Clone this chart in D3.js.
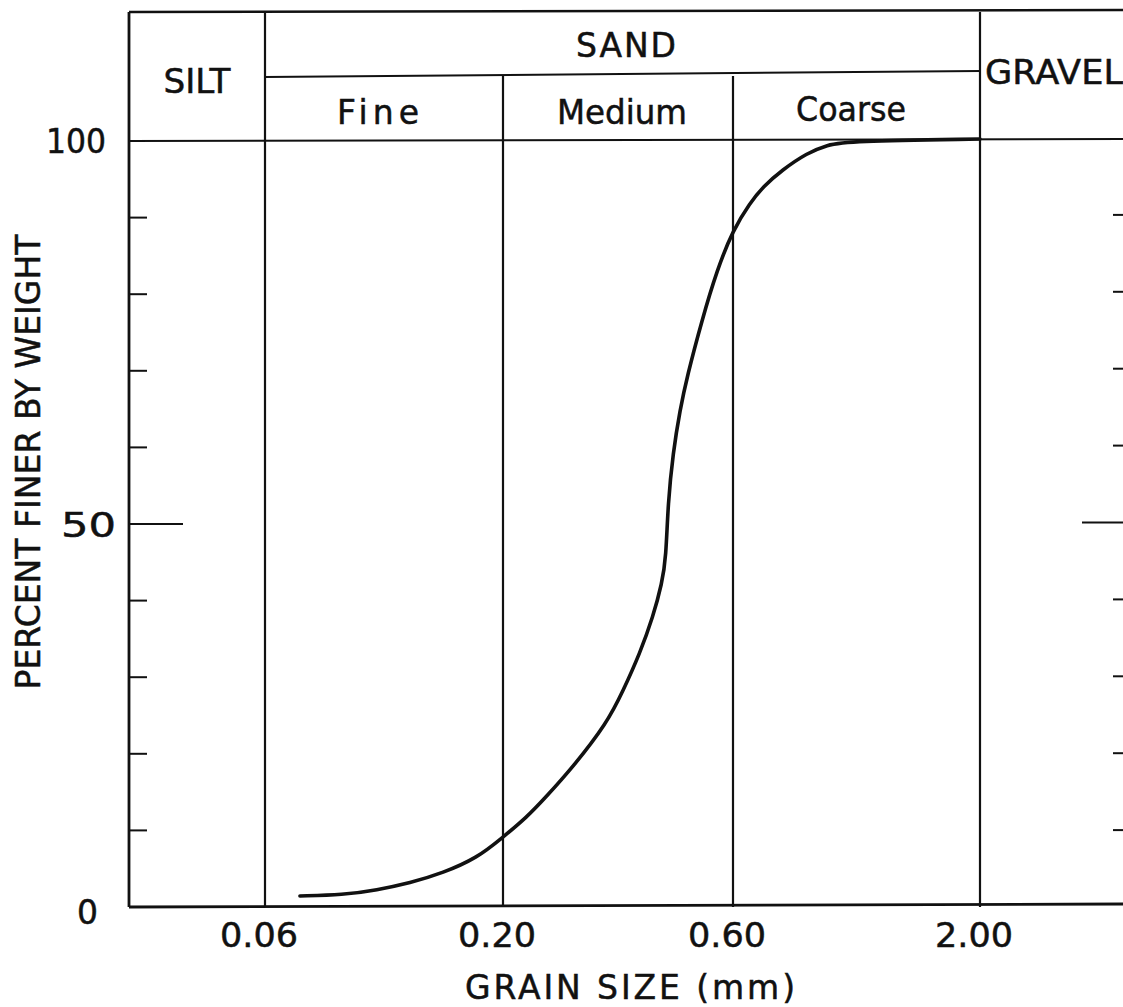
<!DOCTYPE html>
<html>
<head>
<meta charset="utf-8">
<script src="https://cdn.jsdelivr.net/npm/d3@7"></script>
<style>
  body { margin: 0; background: #fff; }
  text { font-family: "DejaVu Sans", sans-serif; fill: #111; stroke: #111; stroke-width: 0.5; }
</style>
</head>
<body>
<div id="chart"></div>
<script>
// grain size (mm) of the vertical class boundaries
var sizeTicks = [0.06, 0.20, 0.60, 2.00];
var sizeLabels = ["0.06", "0.20", "0.60", "2.00"];

// percent ticks
var pctTicks = [10, 20, 30, 40, 50, 60, 70, 80, 90];
var pctLabels = [0, 50, 100];

// header classes
var subClasses = ["Fine", "Medium", "Coarse"];

// grading curve
var grainSize = [0.0716, 0.0716, 0.0890, 0.1057, 0.1249, 0.1476, 0.1754, 0.199, 0.2243, 0.2444,
                 0.2794, 0.3287, 0.3548, 0.3848, 0.4094, 0.4275, 0.4357, 0.4398, 0.4505, 0.4658,
                 0.4816, 0.5174, 0.5559, 0.600, 0.652, 0.694, 0.762, 0.861, 0.949, 1.05,
                 2.00, 2.00];
var pctFiner = [1.44, 1.44, 1.57, 2.22, 3.13, 4.44, 6.40, 9.01, 11.75, 14.23,
                18.28, 24.02, 28.2, 33.16, 37.86, 42.30, 45.56, 52.74, 59.27, 64.88,
                69.19, 76.63, 83.16, 88.38, 91.91, 94.0, 96.21, 98.43, 99.48, 100,
                100.26, 100.26];

var W = 1123, H = 1007;
var frameL = 129, frameR = 1126, frameT = 12, headMid = 76;

var svg = d3.select("#chart")
        .append("svg")
        .attr("width", W)
        .attr("height", H);

// hand drawn log paper, one piece between each boundary
var x = d3.scaleLog()
        .domain(sizeTicks)
        .range([265, 503, 733, 980]);

var y = d3.scaleLinear()
        .domain([0, 100])
        .range([907, 141]);

var ink = "#111";

function rule(x1, y1, x2, y2, w) {
    svg.append("line")
            .attr("x1", x1).attr("y1", y1)
            .attr("x2", x2).attr("y2", y2)
            .attr("stroke", ink)
            .attr("stroke-width", w);
}

// frame
rule(frameL, frameT, frameL, y(0), 2.8);
rule(frameL, frameT, frameR, frameT - 2, 2.4);
rule(frameL, y(0), frameR, y(0) - 3, 2.8);
rule(frameR, frameT, frameR, y(0), 2.8);

// 100 percent line (bottom of the header)
rule(frameL, y(100), frameR, y(100) - 2, 2);

// sand sub header line
rule(x(0.06), headMid + 1, x(2), headMid - 5, 2);

// vertical boundaries
svg.selectAll("line.bound")
        .data(sizeTicks)
        .enter()
        .append("line")
        .attr("class", "bound")
        .attr("x1", function (d) { return x(d); })
        .attr("x2", function (d) { return x(d); })
        .attr("y1", function (d) { return (d === 0.2 || d === 0.6) ? headMid : frameT; })
        .attr("y2", y(0))
        .attr("stroke", ink)
        .attr("stroke-width", 2.2);

// percent ticks, both sides pointing in
svg.selectAll("line.ltick")
        .data(pctTicks)
        .enter()
        .append("line")
        .attr("x1", frameL)
        .attr("x2", function (d) { return d === 50 ? frameL + 54 : frameL + 18; })
        .attr("y1", function (d) { return y(d); })
        .attr("y2", function (d) { return y(d); })
        .attr("stroke", ink).attr("stroke-width", 2);

svg.selectAll("line.rtick")
        .data(pctTicks)
        .enter()
        .append("line")
        .attr("x1", frameR)
        .attr("x2", function (d) { return d === 50 ? frameR - 44 : frameR - 13; })
        .attr("y1", function (d) { return y(d) - 3 * d / 100; })
        .attr("y2", function (d) { return y(d) - 3 * d / 100; })
        .attr("stroke", ink).attr("stroke-width", 2);

// curve (end points doubled so the b-spline reaches them)
var pts = grainSize.map(function (d, i) { return [x(d), y(pctFiner[i])]; });
svg.append("path")
        .attr("d", d3.line().curve(d3.curveBasis)(pts))
        .attr("fill", "none")
        .attr("stroke", ink)
        .attr("stroke-width", 3.6)
        .attr("stroke-linecap", "round");

// x tick labels
svg.selectAll("text.xlab")
        .data(sizeTicks)
        .enter()
        .append("text")
        .attr("x", function (d) { return x(d) - 6; })
        .attr("y", 947)
        .attr("text-anchor", "middle")
        .attr("font-size", 34)
        .attr("textLength", 78)
        .attr("lengthAdjust", "spacingAndGlyphs")
        .text(function (d, i) { return sizeLabels[i]; });

// y tick labels
var yRight = {0: 98, 50: 116, 100: 106};
var yLen = {0: 21, 50: 55, 100: 60};
var yDrop = {0: 17, 50: 13, 100: 12};
svg.selectAll("text.ylab")
        .data(pctLabels)
        .enter()
        .append("text")
        .attr("x", function (d) { return yRight[d]; })
        .attr("y", function (d) { return y(d) + yDrop[d]; })
        .attr("text-anchor", "end")
        .attr("font-size", 34)
        .attr("textLength", function (d) { return yLen[d]; })
        .attr("lengthAdjust", "spacingAndGlyphs")
        .text(function (d) { return d; });

// axis titles
svg.append("text")
        .attr("x", 630).attr("y", 999)
        .attr("text-anchor", "middle")
        .attr("font-size", 33)
        .attr("textLength", 330)
        .text("GRAIN SIZE (mm)");

svg.append("text")
        .attr("transform", "translate(40,462) rotate(-90)")
        .attr("text-anchor", "middle")
        .attr("font-size", 33)
        .attr("textLength", 455)
        .text("PERCENT FINER BY WEIGHT");

// header texts
function head(t, cx, cy, len, anchor, adjust) {
    svg.append("text").attr("x", cx).attr("y", cy)
            .attr("text-anchor", anchor || "middle")
            .attr("font-size", 33)
            .attr("textLength", len)
            .attr("lengthAdjust", adjust || "spacingAndGlyphs")
            .text(t);
}
head("SILT", 197, 93, 67);
head("SAND", 626, 57, 100, "middle", "spacing");
head("GRAVEL", 985, 84, 138, "start");

var subX = [378, 622, 851];
var subLen = [82, 130, 110];
subClasses.forEach(function (d, i) {
    head(d, subX[i], i === 2 ? 121 : 124, subLen[i], "middle", i === 0 ? "spacing" : null);
});
</script>
</body>
</html>
